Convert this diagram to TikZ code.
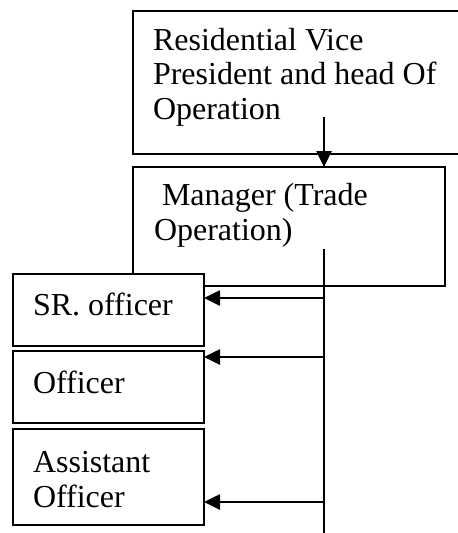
\documentclass[tikz,border=0pt]{standalone}
\usepackage{fontspec}
\setmainfont{Liberation Serif}
\usetikzlibrary{arrows.meta}
\begin{document}
\begin{tikzpicture}[x=1pt,y=-1pt,
  box/.style={draw=black,line width=2.4pt,fill=white,rectangle,inner sep=0pt,outer sep=0pt},
  txt/.style={anchor=base west,align=left,inner sep=0pt,outer sep=0pt,
              font=\fontsize{32}{34.5}\selectfont},
  wire/.style={draw=black,line width=2.6pt},
  arr/.style={wire,-{Triangle[length=16pt,width=15pt]}}]
  \clip (0,0) rectangle (458,533);
  \fill[white] (0,0) rectangle (458,533);

  % upper box, running past the right edge
  \node[box,minimum width=337pt,minimum height=143pt] (vp) at (301.5,82.5) {};
  \node[txt] (vpt) at (153,119) {Residential Vice\\President and head Of\\Operation};

  % manager box
  \node[box,minimum width=312pt,minimum height=119pt] (mgr) at (289,226.5) {};
  \node[txt] (mgrt) at (154,240) {\ Manager (Trade\\Operation)};

  % arrow down into the manager box
  \coordinate (a0) at (324,117);
  \draw[arr] (a0) -- (a0 |- mgr.north);

  % vertical trunk feeding the officer boxes
  \coordinate (ttop) at (324,249);
  \coordinate (tbot) at (324,540);
  \draw[wire] (ttop) -- (tbot);

  % officer boxes
  \node[box,minimum width=191pt,minimum height=72pt] (sr) at (108.5,310) {};
  \node[txt] (srt) at (33,315) {SR. officer};
  \node[box,minimum width=191pt,minimum height=72pt] (off) at (108.5,387) {};
  \node[txt] (offt) at (33,393) {Officer};
  \node[box,minimum width=191pt,minimum height=96pt] (asst) at (108.5,477) {};
  \node[txt] (asstt) at (33,507) {Assistant\\Officer};

  % branches from the trunk
  \coordinate (j1) at (324,298);
  \coordinate (j2) at (324,357);
  \coordinate (j3) at (324,502);
  \draw[arr] (j1) -- (j1 -| sr.east);
  \draw[arr] (j2) -- (j2 -| off.east);
  \draw[arr] (j3) -- (j3 -| asst.east);
\end{tikzpicture}
\end{document}
